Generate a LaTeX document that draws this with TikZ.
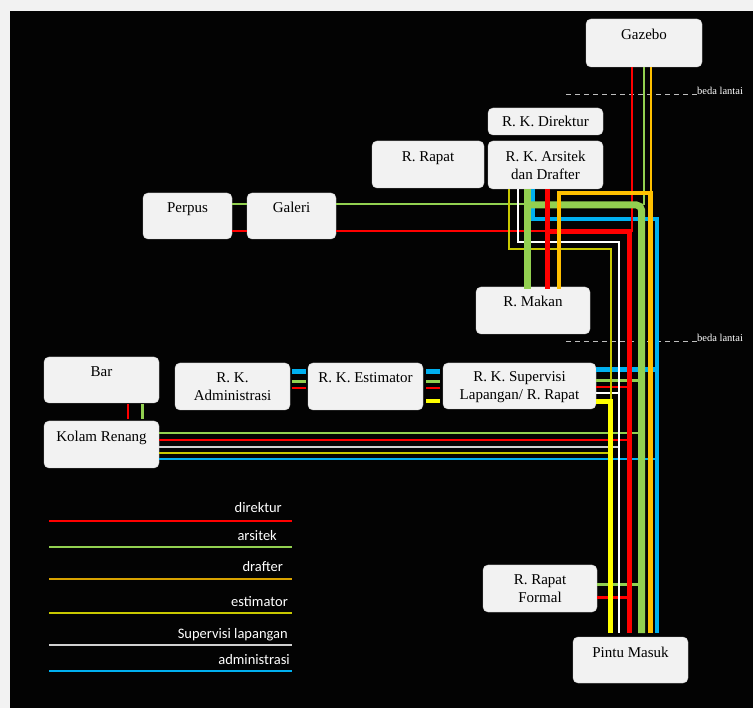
\documentclass[tikz,border=0pt]{standalone}
\usepackage{fontspec}
\setmainfont{Liberation Serif}
\newfontfamily\legendfont{Carlito}
\definecolor{pagebg}{HTML}{F2F2F2}
\definecolor{panel}{HTML}{030303}
\definecolor{boxfill}{HTML}{F2F2F2}
\definecolor{boxedge}{HTML}{D0D0D0}
\definecolor{cred}{HTML}{FF0000}
\definecolor{cgreen}{HTML}{92D050}
\definecolor{cgold}{HTML}{FFC000}
\definecolor{cyel}{HTML}{FFFF00}
\definecolor{colive}{HTML}{C8C800}
\definecolor{cblue}{HTML}{00B0F0}
\definecolor{cgray}{HTML}{D0D0D0}
\definecolor{dashgray}{HTML}{BFBFBF}
\begin{document}
\begin{tikzpicture}[x=1pt,y=-1pt,
  box/.style={draw=boxedge, line width=0.4pt, fill=boxfill, rounded corners=5pt,
              inner sep=0pt, outer sep=0pt, anchor=north west},
  lbl/.style={font=\fontsize{15}{18}\selectfont, text=black, inner sep=0pt, anchor=base},
  lbltwo/.style={font=\fontsize{15}{18}\selectfont, text=black, inner sep=0pt,
                 align=center, anchor=center},
  leg/.style={font=\legendfont\fontsize{14.5}{16}\selectfont, text=white, inner sep=0pt,
              anchor=base east},
  floor/.style={dashgray, line width=1pt, dash pattern=on 5pt off 4pt},
  floortxt/.style={font=\fontsize{10.5}{12}\selectfont, text=white, inner sep=0pt,
                   anchor=base west},
  legline/.style={line width=1.8pt},
]
% page and dark panel
\useasboundingbox (0,0) rectangle (753,708);
\fill[pagebg] (0,0) rectangle (753,708);
\fill[panel] (10,11) rectangle (753,708);

% ---------- rooms ----------
\node[box, minimum width=116pt, minimum height=48pt] (gazebo) at (586,19) {};
\node[lbl] (gazebo-t) at ([yshift=-20.5pt]gazebo.north) {Gazebo};

\node[box, minimum width=115pt, minimum height=27pt] (direktur) at (488,108) {};
\node[lbltwo] (direktur-t) at (direktur.center) {R. K. Direktur};

\node[box, minimum width=115pt, minimum height=48pt] (arsitek) at (488,141) {};
\node[lbltwo] (arsitek-t) at ([yshift=-24pt]arsitek.north) {R. K. Arsitek\\dan Drafter};

\node[box, minimum width=112pt, minimum height=47pt] (rapat) at (372,141) {};
\node[lbl] (rapat-t) at ([yshift=-20.5pt]rapat.north) {R. Rapat};

\node[box, minimum width=89pt, minimum height=46pt] (perpus) at (143,193) {};
\node[lbl] (perpus-t) at ([yshift=-20pt]perpus.north) {Perpus};

\node[box, minimum width=89pt, minimum height=46pt] (galeri) at (247,193) {};
\node[lbl] (galeri-t) at ([yshift=-20pt]galeri.north) {Galeri};

\node[box, minimum width=114pt, minimum height=47pt] (makan) at (476,287) {};
\node[lbl] (makan-t) at ([yshift=-20pt]makan.north) {R. Makan};

\node[box, minimum width=115pt, minimum height=46pt] (bar) at (44,357) {};
\node[lbl] (bar-t) at ([yshift=-20pt]bar.north) {Bar};

\node[box, minimum width=115pt, minimum height=47pt] (kolam) at (44,421) {};
\node[lbl] (kolam-t) at ([yshift=-21pt]kolam.north) {Kolam Renang};

\node[box, minimum width=115pt, minimum height=47pt] (admin) at (175,363) {};
\node[lbltwo] (admin-t) at ([yshift=-24pt]admin.north) {R. K.\\Administrasi};

\node[box, minimum width=115pt, minimum height=47pt] (estimator) at (308,363) {};
\node[lbl] (estimator-t) at ([yshift=-20pt]estimator.north) {R. K. Estimator};

\node[box, minimum width=153pt, minimum height=46pt] (supervisi) at (443,363) {};
\node[lbltwo] (supervisi-t) at ([yshift=-24pt]supervisi.north) {R. K. Supervisi\\Lapangan/ R. Rapat};

\node[box, minimum width=114pt, minimum height=47pt] (formal) at (483,565) {};
\node[lbltwo] (formal-t) at ([yshift=-24pt]formal.north) {R. Rapat\\Formal};

\node[box, minimum width=115pt, minimum height=46pt] (pintu) at (573,637) {};
\node[lbl] (pintu-t) at ([yshift=-20pt]pintu.north) {Pintu Masuk};

% ---------- floor level changes ----------
\coordinate (lv1a) at (566,95);
\coordinate (lv1b) at (697,95);
\draw[floor] (lv1a) -- (lv1b);
\node[floortxt] (lv1-t) at ([yshift=0.5pt]lv1b) {beda lantai};
\coordinate (lv2a) at (566,342);
\coordinate (lv2b) at (697,342);
\draw[floor] (lv2a) -- (lv2b);
\node[floortxt] (lv2-t) at ([yshift=0.5pt]lv2b) {beda lantai};

% ---------- legend ----------
\draw[legline, cred]   (49,521) -- (292,521);
\node[leg] (leg-dir) at (282,513) {direktur};
\draw[legline, cgreen] (49,547) -- (292,547);
\node[leg] (leg-ars) at (277,540) {arsitek};
\draw[legline, cgold!85!black]  (49,579) -- (292,579);
\node[leg] (leg-dra) at (283,572) {drafter};
\draw[legline, colive] (49,613) -- (292,613);
\node[leg] (leg-est) at (288,606) {estimator};
\draw[legline, cgray]  (49,645) -- (292,645);
\node[leg] (leg-sup) at (288,638) {Supervisi lapangan};
\draw[legline, cblue]  (49,671) -- (292,671);
\node[leg] (leg-adm) at (290,664) {administrasi};

% ---------- short links between neighbouring rooms ----------
\draw[cgreen, line width=2pt] (perpus.east |- 0,204) -- (galeri.west |- 0,204);
\draw[cred,   line width=2pt] (perpus.east |- 0,231) -- (galeri.west |- 0,231);
\draw[cred,   line width=2pt] (128,404) -- (128,419);
\draw[cgreen, line width=3pt] (142,404) -- (142,419);

\draw[cblue,  line width=5pt]   (292,371.5) -- (306,371.5);
\draw[cgreen, line width=3pt]   (292,382) -- (306,382);
\draw[cred,   line width=2.5pt] (292,388) -- (306,388);

\draw[cblue,  line width=5pt]   (426,371.5) -- (440,371.5);
\draw[cgreen, line width=3pt]   (426,382) -- (440,382);
\draw[cred,   line width=2.5pt] (426,388) -- (440,388);
\draw[cyel,   line width=4.5pt] (426,401) -- (440,401);

% ---------- Galeri into the trunk ----------
\draw[cgreen, line width=2pt] (galeri.east |- 0,204) -- (527,204);
\draw[cred,   line width=2pt] (galeri.east |- 0,231) -- (547,231);

% ---------- Kolam Renang into the trunk ----------
\draw[cgreen, line width=2.2pt] (kolam.east |- 0,433) -- (641.5,433);
\draw[cred,   line width=2pt]   (kolam.east |- 0,440) -- (629.5,440);
\draw[cgray,  line width=2pt]   (kolam.east |- 0,447) -- (619,447);
\draw[colive, line width=1.8pt] (kolam.east |- 0,453) -- (610,453);
\draw[cblue,  line width=1.8pt] (kolam.east |- 0,459) -- (657,459);

% ---------- Supervisi into the trunk ----------
\draw[cblue,  line width=5pt]   (supervisi.east |- 0,370) -- (657,370);
\draw[cgreen, line width=3pt]   (supervisi.east |- 0,381) -- (641.5,381);
\draw[cred,   line width=2.5pt] (supervisi.east |- 0,387) -- (629.5,387);
\draw[white,  line width=2pt]   (supervisi.east |- 0,393) -- (619,393) -- (619,400);

% ---------- R. Rapat Formal into the trunk ----------
\draw[cgreen, line width=3pt]   (formal.east |- 0,584) -- (641.5,584);
\draw[cred,   line width=3pt]   (formal.east |- 0,597) -- (629.5,597);

% ---------- from R. K. Arsitek and Gazebo down to Pintu Masuk ----------
\coordinate (endY) at (610,633);
\coordinate (endW) at (619,633);
\coordinate (endR) at (629.5,633);
\coordinate (endG) at (641.5,633);
\coordinate (endO) at (650.5,633);
\coordinate (endB) at (657,633);

\draw[colive, line width=1.4pt] (arsitek.south -| 509,0) -- (509,249) -- (611,249) -- (611,400);
\draw[white,  line width=2pt]   (arsitek.south -| 518,0) -- (518,242) -- (619,242) -- (endW);
\draw[cblue,  line width=4pt]   (arsitek.south -| 533,0) -- (533,219) -- (657,219) -- (endB);

\draw[cred,   line width=1.2pt] (gazebo.south -| 632,0) -- (632,232);
\draw[cgreen, line width=1.5pt] (gazebo.south -| 644,0) -- (644,205);
\draw[cgold,  line width=2pt]   (gazebo.south -| 651,0) -- (651,193);

\draw[cgreen, line width=7pt]   (arsitek.south -| 527,0) -- ([yshift=-2pt]makan.north -| 527,0);
\draw[cgreen, line width=7pt, rounded corners=5pt] (527,205) -- (641.5,205) -- (endG);
\draw[cred,   line width=5pt]   (arsitek.south -| 547,0) -- ([yshift=-2pt]makan.north -| 547,0);
\draw[cred,   line width=5pt]   (547,232) -- (629.5,232) -- (endR);
\draw[cgold,  line width=4.5pt] ([yshift=-2pt]makan.north -| 559,0) -- (559,193) -- (650.5,193) -- (endO);

\draw[cyel,   line width=5pt]   (supervisi.east |- 0,402) -- (610,402) -- (endY);
\end{tikzpicture}
\end{document}
